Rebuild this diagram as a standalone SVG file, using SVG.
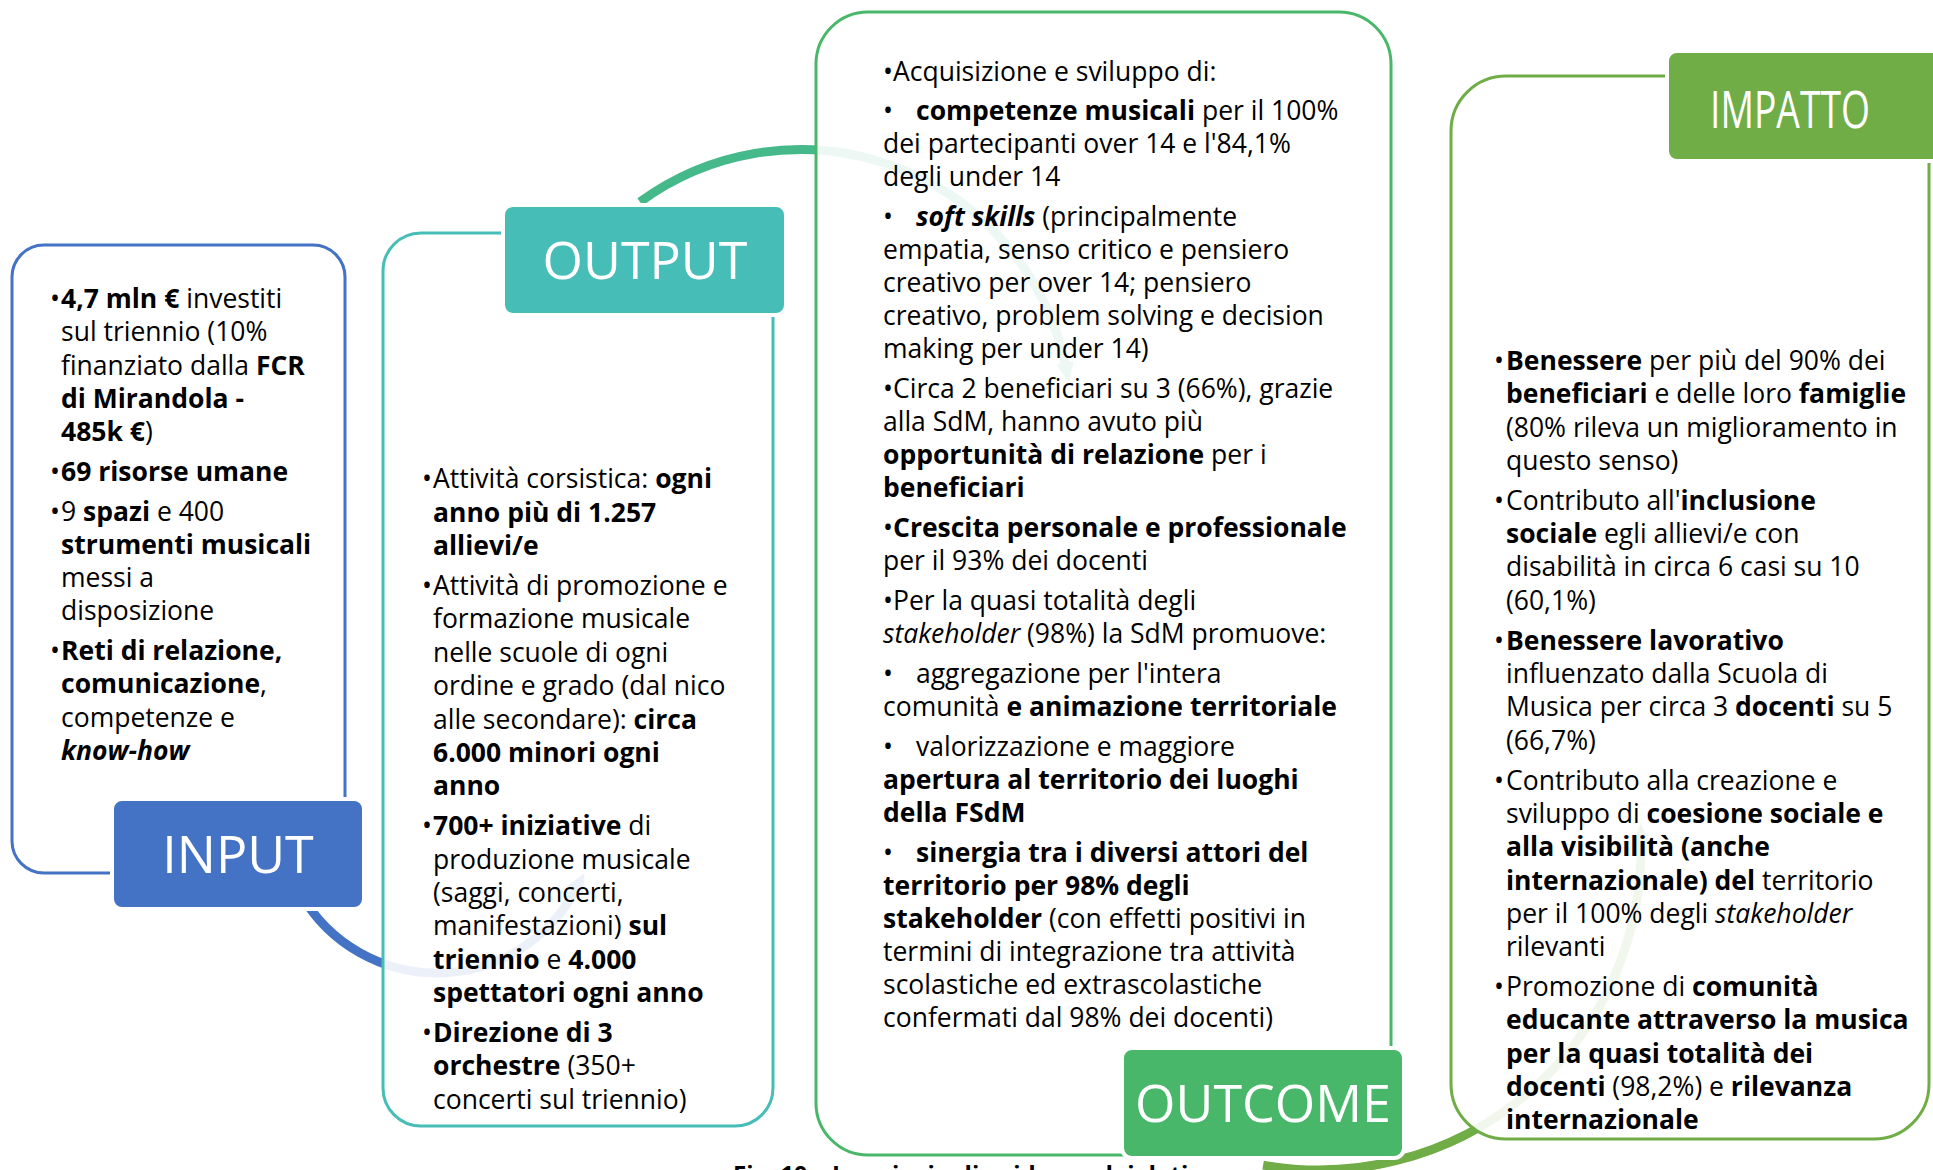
<svg xmlns="http://www.w3.org/2000/svg" width="1933" height="1170" viewBox="0 0 1933 1170">
<style>
  text { font-family: "Open Sans", "Noto Sans", sans-serif; font-size: 26.5px; fill: #000; }
  .b { font-weight: 700; }
  .i { font-style: italic; }
  .lbl { font-size: 52px; fill: #fff; text-anchor: middle; }
  .cap { font-size: 24px; font-weight: 700; }
  .box { fill: #fff; fill-opacity: 0.9; stroke-width: 3; }
  .tag { stroke: #fff; stroke-width: 4; }
  .arc { fill: none; stroke-width: 9; }
</style>
<defs>
  <marker id="hBlue" viewBox="0 0 20 20" refX="1" refY="10" markerWidth="20" markerHeight="20" markerUnits="userSpaceOnUse" orient="auto"><path d="M0,1 L20,10 L0,19 z" fill="#4472C4"/></marker>
  <marker id="hTeal" viewBox="0 0 20 20" refX="1" refY="10" markerWidth="20" markerHeight="20" markerUnits="userSpaceOnUse" orient="auto"><path d="M0,1 L20,10 L0,19 z" fill="#45B98A"/></marker>
  <marker id="hGreen" viewBox="0 0 20 20" refX="1" refY="10" markerWidth="20" markerHeight="20" markerUnits="userSpaceOnUse" orient="auto"><path d="M0,1 L20,10 L0,19 z" fill="#70AD47"/></marker>
</defs>

<g id="connectors">
  <path class="arc" stroke="#4472C4" marker-end="url(#hBlue)" d="M301,894.5 A157,157 0 0 0 575.6,889.7"/>
  <path class="arc" stroke="#45B98A" stroke-width="8" marker-end="url(#hTeal)" d="M640,202 A271,271 0 0 1 1065.1,363.7"/>
  <path class="arc" stroke="#70AD47" marker-end="url(#hGreen)" d="M1263.1,1165.1 A322,322 0 0 0 1641,842.4"/>
</g>

<g id="input">
  <rect class="box" x="12" y="245" width="333" height="628" rx="32" stroke="#4472C4"/>
  <rect class="tag" x="112" y="799" width="252" height="110" rx="10" fill="#4472C4"/>
  <text class="lbl" x="238" y="873">INPUT</text>
  <text y="308"><tspan x="50">•</tspan><tspan x="61" class="b">4,7 mln €</tspan> investiti</text>
  <text x="61" y="341">sul triennio (10%</text>
  <text x="61" y="375">finanziato dalla <tspan class="b">FCR</tspan></text>
  <text x="61" y="408" class="b">di Mirandola -</text>
  <text x="61" y="441"><tspan class="b">485k €</tspan>)</text>
  <text y="481"><tspan x="50">•</tspan><tspan x="61" class="b">69 risorse umane</tspan></text>
  <text y="521"><tspan x="50">•</tspan><tspan x="61">9 </tspan><tspan class="b">spazi</tspan> e 400</text>
  <text x="61" y="554" class="b">strumenti musicali</text>
  <text x="61" y="587">messi a</text>
  <text x="61" y="620">disposizione</text>
  <text y="660"><tspan x="50">•</tspan><tspan x="61" class="b">Reti di relazione,</tspan></text>
  <text x="61" y="693"><tspan class="b">comunicazione</tspan>,</text>
  <text x="61" y="727">competenze e</text>
  <text x="61" y="760" class="b i">know-how</text>
</g>

<g id="output">
  <rect class="box" x="383" y="233" width="390" height="893" rx="38" stroke="#46BDB6"/>
  <rect class="tag" x="503" y="205" width="283" height="110" rx="10" fill="#46BDB6"/>
  <text class="lbl" x="645" y="279">OUTPUT</text>
  <text y="488"><tspan x="422">•</tspan><tspan x="433">Attività corsistica: </tspan><tspan class="b">ogni</tspan></text>
  <text x="433" y="522" class="b">anno più di 1.257</text>
  <text x="433" y="555" class="b">allievi/e</text>
  <text y="595"><tspan x="422">•</tspan><tspan x="433">Attività di promozione e</tspan></text>
  <text x="433" y="628">formazione musicale</text>
  <text x="433" y="662">nelle scuole di ogni</text>
  <text x="433" y="695">ordine e grado (dal nico</text>
  <text x="433" y="729">alle secondare): <tspan class="b">circa</tspan></text>
  <text x="433" y="762" class="b">6.000 minori ogni</text>
  <text x="433" y="795" class="b">anno</text>
  <text y="835"><tspan x="422">•</tspan><tspan x="433" class="b">700+ iniziative</tspan> di</text>
  <text x="433" y="869">produzione musicale</text>
  <text x="433" y="902">(saggi, concerti,</text>
  <text x="433" y="935">manifestazioni) <tspan class="b">sul</tspan></text>
  <text x="433" y="969"><tspan class="b">triennio</tspan> e <tspan class="b">4.000</tspan></text>
  <text x="433" y="1002" class="b">spettatori ogni anno</text>
  <text y="1042"><tspan x="422">•</tspan><tspan x="433" class="b">Direzione di 3</tspan></text>
  <text x="433" y="1075"><tspan class="b">orchestre</tspan> (350+</text>
  <text x="433" y="1109">concerti sul triennio)</text>
</g>

<g id="outcome">
  <rect class="box" x="816" y="12" width="575" height="1143" rx="52" stroke="#49B76A"/>
  <rect class="tag" x="1122" y="1048" width="282" height="110" rx="10" fill="#49B76A"/>
  <text class="lbl" x="1263" y="1122">OUTCOME</text>
  <text y="81"><tspan x="883">•</tspan><tspan x="893">Acquisizione e sviluppo di:</tspan></text>
  <text y="120"><tspan x="883">•</tspan><tspan x="916" class="b">competenze musicali</tspan> per il 100%</text>
  <text x="883" y="153">dei partecipanti over 14 e l'84,1%</text>
  <text x="883" y="186">degli under 14</text>
  <text y="226"><tspan x="883">•</tspan><tspan x="916" class="b i">soft skills</tspan> (principalmente</text>
  <text x="883" y="259">empatia, senso critico e pensiero</text>
  <text x="883" y="292">creativo per over 14; pensiero</text>
  <text x="883" y="325">creativo, problem solving e decision</text>
  <text x="883" y="358">making per under 14)</text>
  <text y="398"><tspan x="883">•</tspan><tspan x="893">Circa 2 beneficiari su 3 (66%), grazie</tspan></text>
  <text x="883" y="431">alla SdM, hanno avuto più</text>
  <text x="883" y="464"><tspan class="b">opportunità di relazione</tspan> per i</text>
  <text x="883" y="497" class="b">beneficiari</text>
  <text y="537"><tspan x="883">•</tspan><tspan x="893" class="b">Crescita personale e professionale</tspan></text>
  <text x="883" y="570">per il 93% dei docenti</text>
  <text y="610"><tspan x="883">•</tspan><tspan x="893">Per la quasi totalità degli</tspan></text>
  <text x="883" y="643"><tspan class="i">stakeholder</tspan> (98%) la SdM promuove:</text>
  <text y="683"><tspan x="883">•</tspan><tspan x="916">aggregazione per l'intera</tspan></text>
  <text x="883" y="716">comunità <tspan class="b">e animazione territoriale</tspan></text>
  <text y="756"><tspan x="883">•</tspan><tspan x="916">valorizzazione e maggiore</tspan></text>
  <text x="883" y="789" class="b">apertura al territorio dei luoghi</text>
  <text x="883" y="822" class="b">della FSdM</text>
  <text y="862"><tspan x="883">•</tspan><tspan x="916" class="b">sinergia tra i diversi attori del</tspan></text>
  <text x="883" y="895" class="b">territorio per 98% degli</text>
  <text x="883" y="928"><tspan class="b">stakeholder</tspan> (con effetti positivi in</text>
  <text x="883" y="961">termini di integrazione tra attività</text>
  <text x="883" y="994">scolastiche ed extrascolastiche</text>
  <text x="883" y="1027">confermati dal 98% dei docenti)</text>
</g>

<g id="impatto">
  <rect class="box" x="1451" y="76" width="478" height="1063" rx="55" stroke="#70AD47"/>
  <rect class="tag" x="1667" y="51" width="300" height="110" rx="10" fill="#70AD47"/>
  <text class="lbl" x="1790" y="128" textLength="160" lengthAdjust="spacingAndGlyphs">IMPATTO</text>
  <text y="370"><tspan x="1494">•</tspan><tspan x="1506" class="b">Benessere</tspan> per più del 90% dei</text>
  <text x="1506" y="403"><tspan class="b">beneficiari</tspan> e delle loro <tspan class="b">famiglie</tspan></text>
  <text x="1506" y="437">(80% rileva un miglioramento in</text>
  <text x="1506" y="470">questo senso)</text>
  <text y="510"><tspan x="1494">•</tspan><tspan x="1506">Contributo all'</tspan><tspan class="b">inclusione</tspan></text>
  <text x="1506" y="543"><tspan class="b">sociale</tspan> egli allievi/e con</text>
  <text x="1506" y="576">disabilità in circa 6 casi su 10</text>
  <text x="1506" y="610">(60,1%)</text>
  <text y="650"><tspan x="1494">•</tspan><tspan x="1506" class="b">Benessere lavorativo</tspan></text>
  <text x="1506" y="683">influenzato dalla Scuola di</text>
  <text x="1506" y="716">Musica per circa 3 <tspan class="b">docenti</tspan> su 5</text>
  <text x="1506" y="750">(66,7%)</text>
  <text y="790"><tspan x="1494">•</tspan><tspan x="1506">Contributo alla creazione e</tspan></text>
  <text x="1506" y="823">sviluppo di <tspan class="b">coesione sociale e</tspan></text>
  <text x="1506" y="856" class="b">alla visibilità (anche</text>
  <text x="1506" y="890"><tspan class="b">internazionale) del</tspan> territorio</text>
  <text x="1506" y="923">per il 100% degli <tspan class="i">stakeholder</tspan></text>
  <text x="1506" y="956">rilevanti</text>
  <text y="996"><tspan x="1494">•</tspan><tspan x="1506">Promozione di </tspan><tspan class="b">comunità</tspan></text>
  <text x="1506" y="1029" class="b">educante attraverso la musica</text>
  <text x="1506" y="1063" class="b">per la quasi totalità dei</text>
  <text x="1506" y="1096"><tspan class="b">docenti</tspan> (98,2%) e <tspan class="b">rilevanza</tspan></text>
  <text x="1506" y="1129" class="b">internazionale</text>
</g>

<text class="cap" x="733" y="1183">Fig. 10 – Le principali evidenze dei dati</text>
</svg>
